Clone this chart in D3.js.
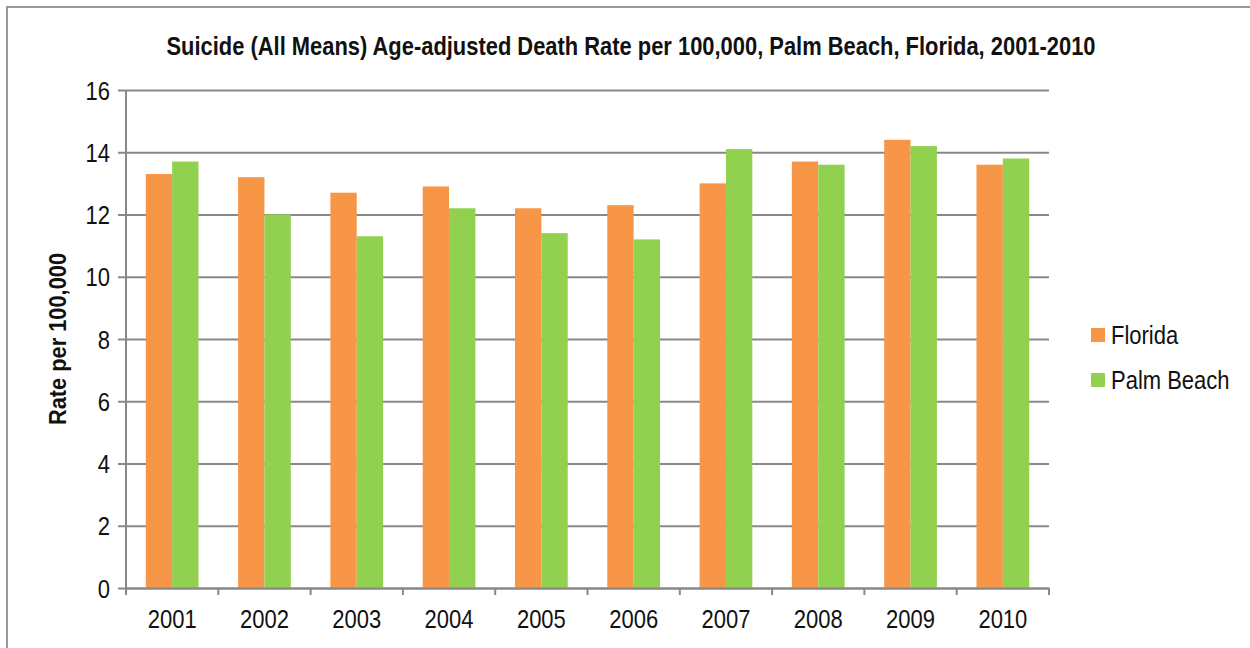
<!DOCTYPE html>
<html>
<head>
<meta charset="utf-8">
<script src="https://cdn.jsdelivr.net/npm/d3@7"></script>
<style>
  html, body { margin: 0; padding: 0; background: #fff; }
  svg { display: block; }
  text { font-family: "Liberation Sans", Arial, sans-serif; fill: #111; }
</style>
</head>
<body>
<div id="chart"></div>
<script>
const years = ["2001","2002","2003","2004","2005","2006","2007","2008","2009","2010"];
const florida = [13.3, 13.2, 12.7, 12.9, 12.2, 12.3, 13.0, 13.7, 14.4, 13.6];
const palmBeach = [13.7, 12.0, 11.3, 12.2, 11.4, 11.2, 14.1, 13.6, 14.2, 13.8];
const seriesNames = ["Florida", "Palm Beach"];
const seriesColors = ["#F79646", "#92D050"];
const yTicks = [0, 2, 4, 6, 8, 10, 12, 14, 16];
const titleText = "Suicide (All Means) Age-adjusted Death Rate per 100,000, Palm Beach, Florida, 2001-2010";
const yTitle = "Rate per 100,000";

const W = 1250, H = 648;
const plot = { left: 126, right: 1049, top: 90, bottom: 588 };
const gridColor = "#888888";
const stretch = 1.15;

const svg = d3.select("#chart").append("svg").attr("width", W).attr("height", H);

// outer border (only top and left visible)
svg.append("rect").attr("x", 7).attr("y", 7).attr("width", W + 20).attr("height", H + 20)
  .attr("fill", "none").attr("stroke", "#9a9a9a").attr("stroke-width", 2);

const x0 = d3.scaleBand().domain(years).range([plot.left, plot.right]).paddingInner(0).paddingOuter(0);
const bandPad = x0.bandwidth() * 0.75 / 3.5; // ~150% gap width
const x1 = d3.scaleBand().domain(seriesNames).range([bandPad, x0.bandwidth() - bandPad]).padding(0);
const y = d3.scaleLinear().domain([0, 16]).range([plot.bottom, plot.top]);

// gridlines + y tick labels
const yAxis = d3.axisLeft(y).tickValues(yTicks).tickSize(-(plot.right - plot.left)).tickPadding(16).tickFormat(d3.format("d"));
const gy = svg.append("g").attr("transform", `translate(${plot.left},0)`).call(yAxis);
gy.select(".domain").remove();
gy.selectAll(".tick line").attr("stroke", gridColor).attr("stroke-width", 2).attr("x1", -8);
gy.selectAll(".tick text").attr("font-size", 22).attr("fill", "#111").attr("dy", "0.36em")
  .attr("transform", `scale(1,${stretch})`);

// bars
const data = years.map((yr, i) => ({ year: yr, values: [florida[i], palmBeach[i]] }));
const groups = svg.append("g").selectAll("g").data(data).join("g")
  .attr("transform", d => `translate(${x0(d.year)},0)`);
groups.selectAll("rect").data(d => d.values.map((v, j) => ({ name: seriesNames[j], v, j })))
  .join("rect")
  .attr("x", d => x1(d.name))
  .attr("width", x1.bandwidth())
  .attr("y", d => y(d.v))
  .attr("height", d => y(0) - y(d.v))
  .attr("fill", d => seriesColors[d.j]);

// y axis line
svg.append("line").attr("x1", plot.left).attr("x2", plot.left).attr("y1", plot.top).attr("y2", plot.bottom)
  .attr("stroke", gridColor).attr("stroke-width", 2);

// x axis
const xAxis = d3.axisBottom(x0).tickSize(0).tickPadding(0);
const gx = svg.append("g").attr("transform", `translate(0,${plot.bottom})`).call(xAxis);
gx.select(".domain").attr("stroke", gridColor).attr("stroke-width", 2);
gx.selectAll(".tick text").attr("font-size", 22).attr("fill", "#111")
  .attr("y", 0).attr("dy", null)
  .attr("transform", `translate(0,40) scale(1,${stretch})`);
// category boundary ticks
const boundaries = d3.range(years.length + 1).map(i => plot.left + i * x0.bandwidth());
svg.append("g").selectAll("line").data(boundaries).join("line")
  .attr("x1", d => d).attr("x2", d => d).attr("y1", plot.bottom).attr("y2", plot.bottom + 7)
  .attr("stroke", gridColor).attr("stroke-width", 2);

// title
svg.append("text").attr("transform", `translate(631,55) scale(1,${stretch})`).attr("text-anchor", "middle")
  .attr("font-size", 23).attr("font-weight", "bold")
  .attr("textLength", 929).attr("lengthAdjust", "spacingAndGlyphs")
  .text(titleText);

// y title
svg.append("text").attr("transform", `translate(66,${(plot.top + plot.bottom) / 2}) rotate(-90) scale(1,${stretch})`)
  .attr("text-anchor", "middle").attr("font-size", 21).attr("font-weight", "bold")
  .attr("textLength", 172).attr("lengthAdjust", "spacingAndGlyphs")
  .text(yTitle);

// legend
const legend = svg.append("g").selectAll("g").data(seriesNames).join("g")
  .attr("transform", (d, i) => `translate(1091,${335 + i * 45})`);
legend.append("rect").attr("x", 0).attr("y", -7).attr("width", 14).attr("height", 14)
  .attr("fill", (d, i) => seriesColors[i]);
legend.append("text").attr("x", 20).attr("y", 0).attr("dy", "0.36em")
  .attr("font-size", 22).attr("transform", `scale(1,${stretch})`)
  .text(d => d);
</script>
</body>
</html>
